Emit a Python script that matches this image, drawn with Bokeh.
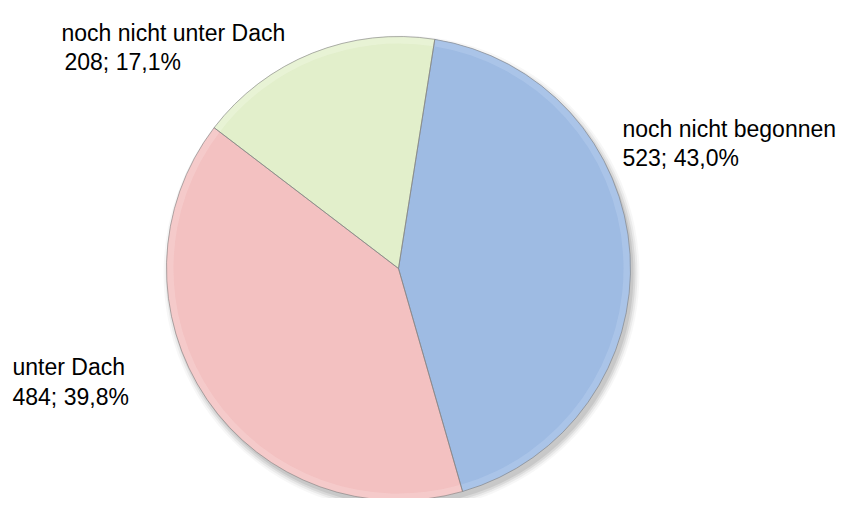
import math
from bokeh.plotting import figure
from bokeh.models import Range1d, ColumnDataSource
from bokeh.embed import file_html
from bokeh.resources import INLINE
from bokeh.core.properties import value

# ---- data ----
categories = ["noch nicht begonnen", "unter Dach", "noch nicht unter Dach"]
counts = [523, 484, 208]

# ---- style ----
colors = ["#9EBBE3", "#F3C1C1", "#E2EFCB"]
rim_colors = ["#B3CAEB", "#F6D0D0", "#EDF5DC"]

W, H = 837, 498
p = figure(width=W, height=H, output_backend="svg", toolbar_location=None,
           x_range=Range1d(0, W), y_range=Range1d(-H, 0),
           min_border=0)
p.axis.visible = False
p.grid.visible = False
p.outline_line_color = None
p.background_fill_color = "white"
p.border_fill_color = "white"

cx, cy, r = 398, -268, 232
total = sum(counts)
start0 = math.radians(81)
starts, ends = [], []
acc = 0
for c in counts:
    s = start0 - 2 * math.pi * acc / total
    acc += c
    e = start0 - 2 * math.pi * acc / total
    starts.append(s)
    ends.append(e)

labels_val = [f"{c}; {100 * c / total:.1f}%".replace(".", ",") for c in counts]

src = ColumnDataSource(dict(start=starts, end=ends, color=colors, rim=rim_colors,
                            name=categories, val=labels_val))

# soft shadow
for k, a in [(6, 0.03), (4, 0.05), (2, 0.07), (0, 0.08)]:
    p.circle(x=cx + 3, y=cy - 5, radius=r + k, fill_color="black", fill_alpha=a,
             line_color=None)

p.wedge(x=cx, y=cy, radius=r, start_angle="start", end_angle="end",
        direction="clock", fill_color="color", line_color=None, source=src)
p.annular_wedge(x=cx, y=cy, inner_radius=r - 7, outer_radius=r,
                start_angle="start", end_angle="end", direction="clock",
                fill_color="rim", fill_alpha=0.6, line_color=None, source=src)
p.wedge(x=cx, y=cy, radius=r, start_angle="start", end_angle="end",
        direction="clock", fill_color=None, line_color="#7F7F7F",
        line_alpha=0.6, line_width=1, source=src)

# ---- labels ----
label_x = [622, 12, 61]
name_y = [-128, -366, -32]
val_x = [622, 12, 64]
val_y = [-157, -396, -61]
lsrc = ColumnDataSource(dict(x=label_x, ny=name_y, vx=val_x, vy=val_y,
                             name=categories, val=labels_val))
font = value("Liberation Sans")
p.text(x="x", y="ny", text="name", source=lsrc, text_font=font,
       text_font_size="23px", text_color="black", text_baseline="alphabetic",
       text_align="left")
p.text(x="vx", y="vy", text="val", source=lsrc, text_font=font,
       text_font_size="23px", text_color="black", text_baseline="alphabetic",
       text_align="left")

open("out.html", "w").write(file_html(p, INLINE))
